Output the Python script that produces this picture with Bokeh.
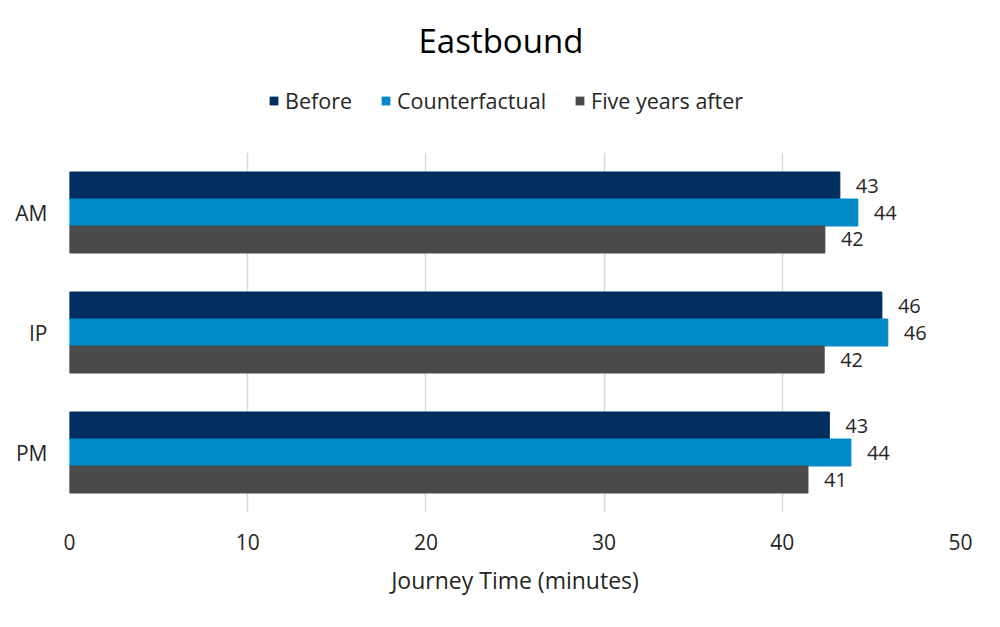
from bokeh.plotting import figure
from bokeh.layouts import column
from bokeh.models import ColumnDataSource, Legend, LegendItem, Range1d, FactorRange, Title
from bokeh.transform import dodge
from bokeh.embed import file_html
from bokeh.resources import INLINE

# journey times (minutes)
periods = ["AM", "IP", "PM"]
before = [43.23, 45.59, 42.64]
counterfactual = [44.24, 45.92, 43.85]
five_years_after = [42.39, 42.35, 41.44]

series_names = ["Before", "Counterfactual", "Five years after"]
series_colors = ["#002F5F", "#008AC9", "#4A4A4A"]
series_cols = ["before", "counterfactual", "five"]
x_ticks = [0, 10, 20, 30, 40, 50]

FONT = "Open Sans"
TXT = "#262626"

src = ColumnDataSource(data=dict(
    period=periods,
    before=before,
    counterfactual=counterfactual,
    five=five_years_after,
    before_lbl=[str(round(v)) for v in before],
    counterfactual_lbl=[str(round(v)) for v in counterfactual],
    five_lbl=[str(round(v)) for v in five_years_after],
))

# header: title + legend (a legend in a side panel squashes the frame, so it gets its own strip)
# its frame is lined up with the main plot's frame by the column layout
head = figure(width=984, height=152, output_backend="svg", toolbar_location=None,
              x_range=Range1d(100, 101), y_range=Range1d(0, 1), x_axis_type=None, y_axis_type=None,
              min_border_left=69, min_border_right=24, min_border_top=67, min_border_bottom=13)
head.grid.visible = False
head.outline_line_color = None
head.add_layout(Title(text="Eastbound", align="left", offset=349, text_font=FONT, text_font_size="33px",
                      text_font_style="normal", text_color="#000000", standoff=10), "above")

# zero-height copies of the bars, off the header's x range: only their legend swatches show
swatches = [head.hbar(y=0.5, left=0, right=c, height=0, source=src, fill_color=col, line_color=None)
            for c, col in zip(series_cols, series_colors)]
legend = Legend(items=[LegendItem(label=n, renderers=[r]) for n, r in zip(series_names, swatches)],
                orientation="horizontal", location=(199, 24), label_text_font=FONT,
                label_text_font_size="21.5px", label_text_color=TXT, glyph_width=11, glyph_height=11,
                label_standoff=6, spacing=28, border_line_color=None, background_fill_alpha=0,
                padding=0, margin=0)
head.add_layout(legend, "center")

p = figure(width=984, height=459, output_backend="svg", toolbar_location=None,
           y_range=FactorRange(*periods[::-1]), x_range=Range1d(0, 50),
           min_border_left=69, min_border_right=24, min_border_bottom=99, min_border_top=0)

bar_h = 0.225
for c, off, color in zip(series_cols, [bar_h, 0, -bar_h], series_colors):
    p.hbar(y=dodge("period", off, range=p.y_range), right=c, left=0, height=bar_h,
           source=src, fill_color=color, line_color=color)
    p.text(x=c, y=dodge("period", off, range=p.y_range), text=c + "_lbl", source=src,
           x_offset=16, text_baseline="middle", text_align="left",
           text_font={"value": FONT}, text_font_size="20px", text_color=TXT)

p.xaxis.ticker = x_ticks
p.xaxis.axis_label = "Journey Time (minutes)"
p.xaxis.axis_label_text_font = FONT
p.xaxis.axis_label_text_font_size = "23px"
p.xaxis.axis_label_text_font_style = "normal"
p.xaxis.axis_label_text_color = TXT
p.xaxis.axis_label_standoff = 11
for ax in (p.xaxis, p.yaxis):
    ax.axis_line_color = None
    ax.major_tick_line_color = None
    ax.minor_tick_line_color = None
    ax.major_label_text_font = FONT
    ax.major_label_text_font_size = "21px"
    ax.major_label_text_color = TXT
p.xaxis.major_label_standoff = 15
p.yaxis.major_label_standoff = 16

p.xgrid.grid_line_color = "#D9D9D9"
p.xgrid.grid_line_width = 1.5
p.ygrid.grid_line_color = None
p.outline_line_color = None

page = column(head, p, spacing=0)
open("out.html", "w").write(file_html(page, INLINE))
